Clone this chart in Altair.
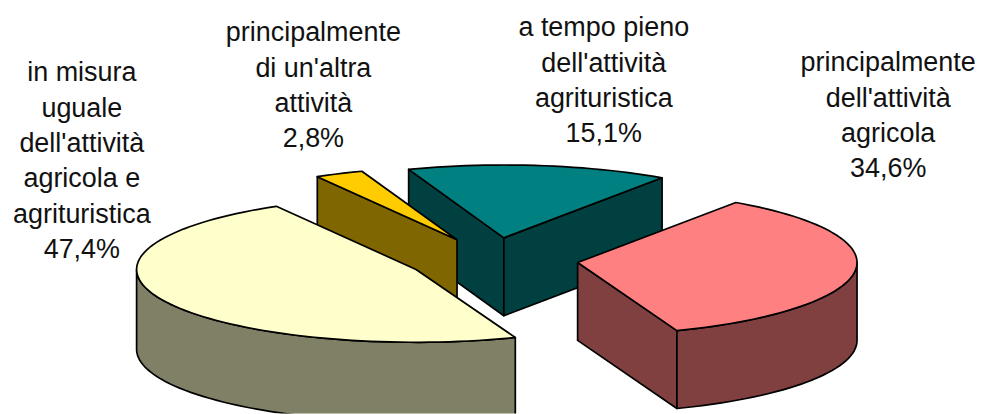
import math
import altair as alt
import pandas as pd

# Chart values
categories = ["principalmente dell'attività agricola", "a tempo pieno dell'attività agrituristica",
              "principalmente di un'altra attività", "in misura uguale dell'attività agricola e agrituristica"]
shares = [34.6, 15.1, 2.8, 47.4]
label_lines = [
    ["principalmente", "dell'attività", "agricola", "34,6%"],
    ["a tempo pieno", "dell'attività", "agrituristica", "15,1%"],
    ["principalmente", "di un'altra", "attività", "2,8%"],
    ["in misura", "uguale", "dell'attività", "agricola e", "agrituristica", "47,4%"],
]

# Styling and layout of the tilted, exploded pie
top_colors = ["#FF8080", "#008080", "#FFCC00", "#FFFFCC"]
wall_colors = ["#804040", "#004040", "#806600", "#808066"]
wall_depths = [78, 78, 58, 80]
label_anchors = [(890, 71), (605, 36), (314, 41), (82, 81)]
LINE_STEP = 35.4
START = 55.5
CX, CY, RX, RY, EXPLODE = 494.0, 260.0, 280.0, 73.0, 0.305

# Slice geometry derived from the shares:
# the first slice runs clockwise from START, the others counter-clockwise from START
sweeps = [s / sum(shares) * 360 for s in shares]
spans = [(START - sweeps[0], START)]
cur = START
for sw in sweeps[1:]:
    spans.append((cur, cur + sw))
    cur += sw


def apex(i):
    lo, hi = spans[i]
    m = math.radians((lo + hi) / 2)
    return (CX + EXPLODE * RX * math.cos(m), CY - EXPLODE * RY * math.sin(m))


def rim(i, a):
    ax, ay = apex(i)
    r = math.radians(a)
    return (ax + RX * math.cos(r), ay - RY * math.sin(r))


def arc(i, lo, hi):
    n = max(2, int((hi - lo) / 2))
    return [rim(i, lo + (hi - lo) * k / n) for k in range(n + 1)]


def top_face(i):
    lo, hi = spans[i]
    return [apex(i)] + arc(i, lo, hi) + [apex(i)]


def wall_edge(i, a):
    p, q = apex(i), rim(i, a)
    d = wall_depths[i]
    return [p, q, (q[0], q[1] + d), (p[0], p[1] + d), p]


def rim_wall(i, lo, hi):
    pts = arc(i, lo, hi)
    d = wall_depths[i]
    return pts + [(x, y + d) for x, y in reversed(pts)] + [pts[0]]


x_scale = alt.Scale(domain=[8, 976])
y_scale = alt.Scale(domain=[414, 8])


def face(points, fill):
    df = pd.DataFrame(points, columns=["x", "y"])
    df["seq"] = range(len(df))
    return alt.Chart(df).mark_line(
        fill=fill, stroke="black", strokeWidth=1.7, strokeJoin="round", clip=True
    ).encode(
        x=alt.X("x:Q", scale=x_scale, axis=None),
        y=alt.Y("y:Q", scale=y_scale, axis=None),
        order="seq:Q",
    )


P, T, Y, B = 0, 1, 2, 3
layers = [
    face(wall_edge(T, spans[T][1]), wall_colors[T]),
    face(wall_edge(T, spans[T][0]), wall_colors[T]),
    face(top_face(T), top_colors[T]),
    face(wall_edge(Y, spans[Y][1]), wall_colors[Y]),
    face(top_face(Y), top_colors[Y]),
    face(rim_wall(B, 180, spans[B][1]), wall_colors[B]),
    face(top_face(B), top_colors[B]),
    face(wall_edge(P, spans[P][0]), wall_colors[P]),
    face(rim_wall(P, spans[P][0], 0), wall_colors[P]),
    face(top_face(P), top_colors[P]),
]

rows = []
for lines, (ax, ay) in zip(label_lines, label_anchors):
    for n, line in enumerate(lines):
        rows.append({"x": ax, "y": ay + n * LINE_STEP, "t": line})
text = alt.Chart(pd.DataFrame(rows)).mark_text(
    font="Liberation Sans", fontSize=27, align="center", baseline="alphabetic", color="#111111"
).encode(
    x=alt.X("x:Q", scale=x_scale, axis=None),
    y=alt.Y("y:Q", scale=y_scale, axis=None),
    text="t:N",
)

chart = alt.layer(*layers, text).properties(
    width=968, height=406, padding=0, background="white"
).configure_view(stroke=None)

chart.save("out.html", embed_options={"renderer": "svg", "actions": False})
